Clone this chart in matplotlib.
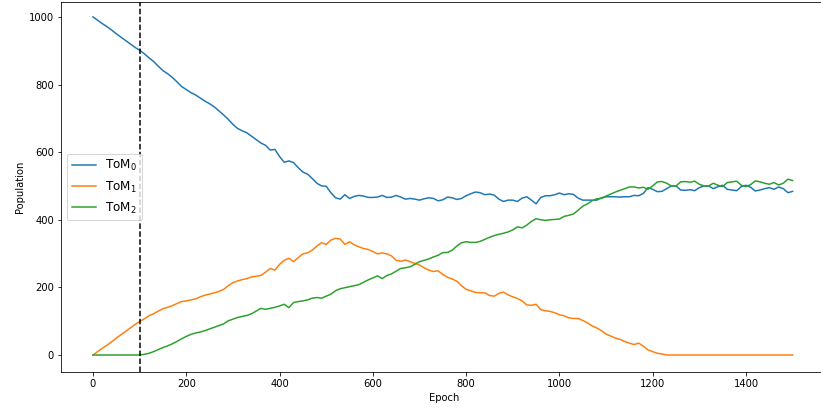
import matplotlib
matplotlib.use("Agg")
import matplotlib.pyplot as plt
import numpy as np

epochs = list(range(0, 1501, 10))

tom1 = [0, 10, 20, 29, 39, 50, 60, 70, 80, 90,
        99, 107, 116, 122, 130, 137, 141, 146, 152, 158,
        160, 163, 166, 172, 177, 180, 184, 188, 194, 205,
        214, 219, 223, 226, 231, 233, 235, 245, 256, 251,
        268, 280, 286, 276, 288, 299, 302, 310, 322, 332,
        327, 340, 345, 343, 327, 335, 326, 320, 315, 312,
        306, 299, 302, 299, 293, 280, 277, 281, 276, 271,
        266, 258, 251, 247, 249, 238, 230, 225, 218, 205,
        194, 190, 185, 184, 184, 176, 174, 182, 186, 178,
        172, 167, 160, 148, 147, 150, 134, 131, 129, 125,
        119, 116, 110, 108, 108, 102, 95, 86, 80, 72,
        62, 56, 50, 46, 40, 35, 31, 35, 26, 15,
        10, 5, 3, 0, 0, 0, 0, 0, 0, 0,
        0, 0, 0, 0, 0, 0, 0, 0, 0, 0,
        0, 0, 0, 0, 0, 0, 0, 0, 0, 0,
        0]

tom2 = [0, 0, 0, 0, 0, 0, 0, 0, 0, 0,
        0, 2, 5, 10, 16, 22, 27, 33, 40, 48,
        55, 61, 65, 68, 72, 77, 82, 87, 92, 101,
        106, 111, 114, 117, 122, 130, 138, 135, 138, 141,
        145, 150, 140, 155, 158, 160, 163, 168, 170, 168,
        174, 180, 190, 196, 199, 202, 205, 208, 215, 222,
        228, 234, 226, 235, 240, 248, 256, 258, 261, 268,
        276, 280, 284, 290, 295, 303, 303, 310, 322, 332,
        335, 333, 333, 336, 342, 348, 353, 357, 360, 364,
        370, 379, 376, 384, 395, 403, 400, 398, 400, 401,
        402, 410, 413, 417, 428, 440, 447, 456, 462, 463,
        470, 476, 482, 487, 492, 497, 497, 494, 496, 490,
        500, 512, 513, 508, 500, 500, 512, 513, 511, 514,
        505, 500, 500, 508, 502, 498, 510, 512, 514, 502,
        498, 504, 515, 512, 508, 505, 510, 503, 508, 520,
        516]

tom0 = [1000, 990, 980, 971, 961, 950, 940, 930, 920, 910,
        901, 891, 879, 868, 854, 841, 832, 821, 808, 794,
        785, 776, 769, 760, 751, 743, 734, 722, 710, 697,
        682, 670, 663, 657, 647, 637, 627, 620, 606, 608,
        587, 570, 574, 569, 554, 541, 535, 522, 508, 500,
        499, 480, 465, 461, 474, 463, 469, 472, 470, 466,
        466, 467, 472, 466, 467, 472, 467, 461, 463, 461,
        458, 462, 465, 463, 456, 459, 467, 465, 460, 463,
        471, 477, 482, 480, 474, 476, 473, 461, 454, 458,
        458, 454, 464, 468, 458, 447, 466, 471, 471, 474,
        479, 474, 477, 475, 464, 458, 458, 458, 458, 465,
        468, 468, 468, 467, 468, 468, 472, 471, 478, 495,
        490, 483, 484, 492, 500, 500, 488, 487, 489, 486,
        495, 500, 500, 492, 498, 502, 490, 488, 486, 498,
        502, 496, 485, 488, 492, 495, 490, 497, 492, 480,
        484]

labels = [r"ToM$_0$", r"ToM$_1$", r"ToM$_2$"]
x_ticks = [0, 200, 400, 600, 800, 1000, 1200, 1400]
y_ticks = [0, 200, 400, 600, 800, 1000]
switch_epoch = 100

fig = plt.figure(figsize=(821 / 72, 409 / 72), dpi=72)
ax = fig.add_axes([61 / 821, 37 / 409, (827.6 - 61) / 821, 370 / 409])

ax.plot(epochs, tom0, label=labels[0])
ax.plot(epochs, tom1, label=labels[1])
ax.plot(epochs, tom2, label=labels[2])
ax.axvline(switch_epoch, color="k", linestyle="--")

ax.set_xlim(-68.6, 1575)
ax.set_ylim(-50.3, 1044)
ax.set_xticks(x_ticks)
ax.set_yticks(y_ticks)
ax.set_xlabel("Epoch")
ax.set_ylabel("Population")
ax.legend(loc="center left", fontsize=12)

fig.savefig("out.png", dpi=72)
